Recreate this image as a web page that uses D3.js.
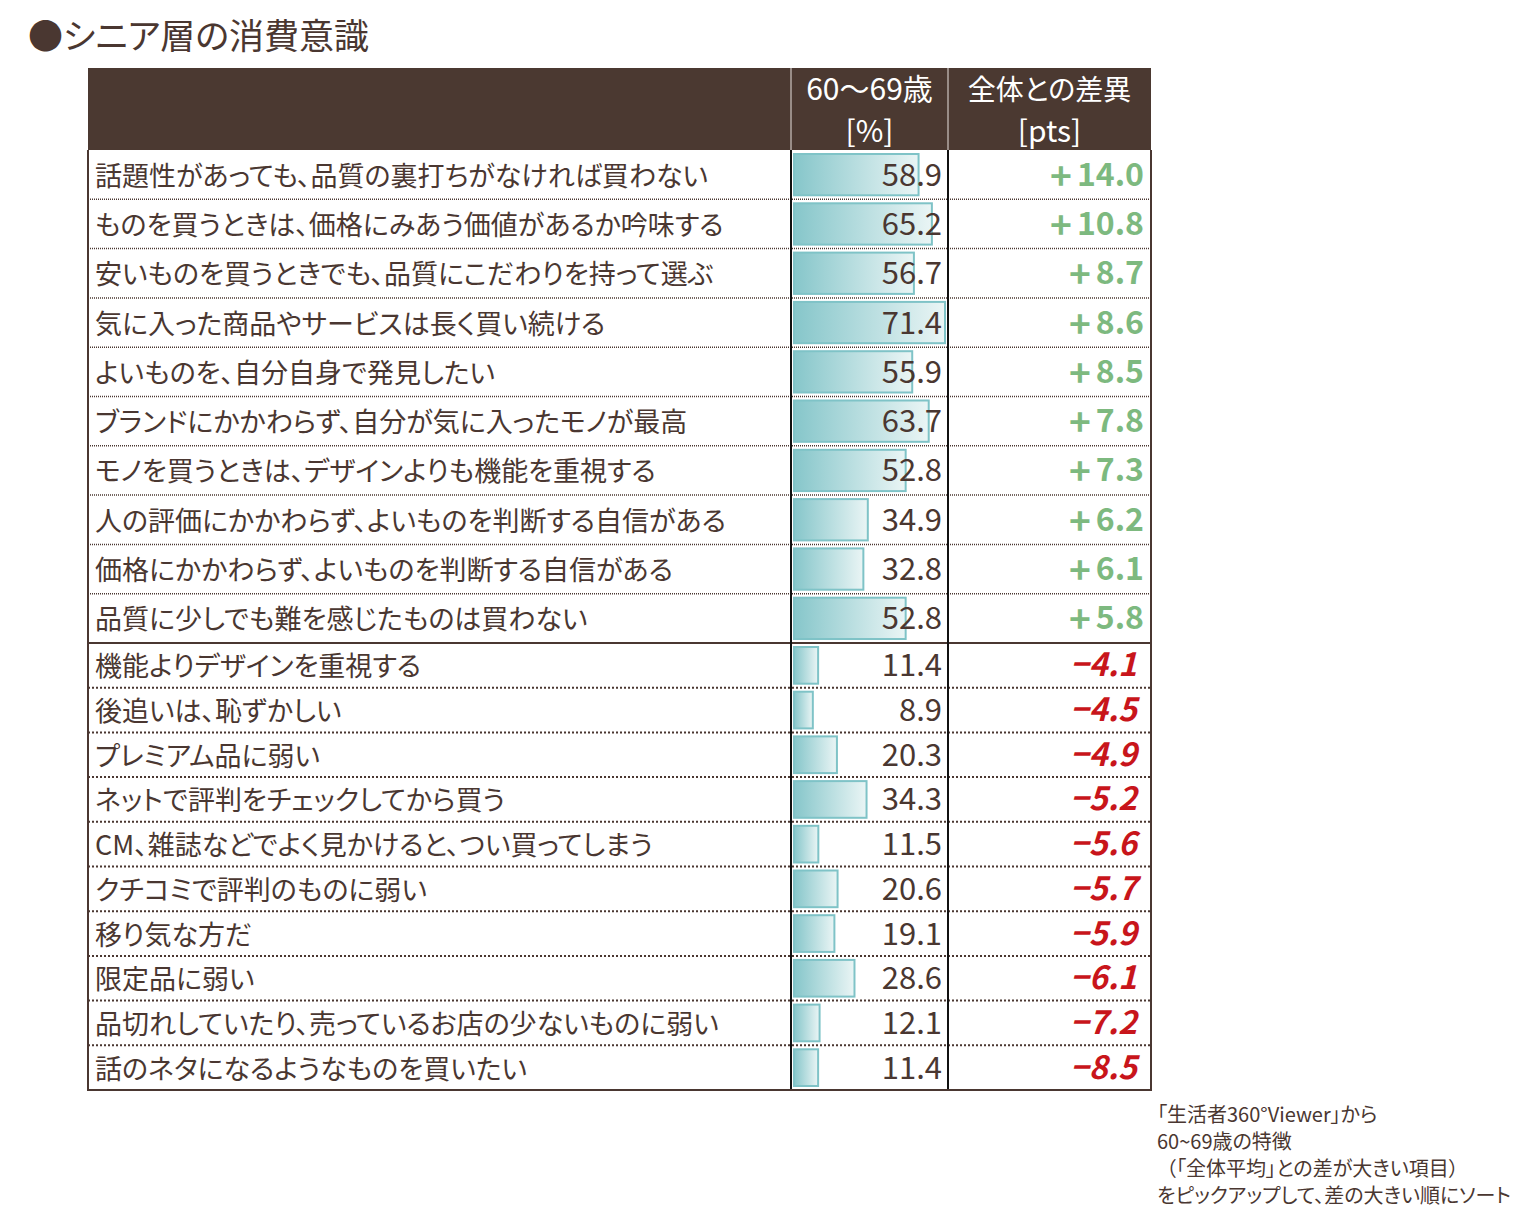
<!DOCTYPE html>
<html>
<head>
<meta charset="utf-8">
<script src="https://cdn.jsdelivr.net/npm/d3@7"></script>
<style>
body { margin: 0; background: #fff; }
text { font-family: "Noto Sans CJK JP", "Noto Sans", sans-serif; }
.palt { font-feature-settings: "palt" 1; }
</style>
</head>
<body>
<div id="canvas"></div>
<script>
// data
var labels = [
	"話題性があっても、品質の裏打ちがなければ買わない",
	"ものを買うときは、価格にみあう価値があるか吟味する",
	"安いものを買うときでも、品質にこだわりを持って選ぶ",
	"気に入った商品やサービスは長く買い続ける",
	"よいものを、自分自身で発見したい",
	"ブランドにかかわらず、自分が気に入ったモノが最高",
	"モノを買うときは、デザインよりも機能を重視する",
	"人の評価にかかわらず、よいものを判断する自信がある",
	"価格にかかわらず、よいものを判断する自信がある",
	"品質に少しでも難を感じたものは買わない",
	"機能よりデザインを重視する",
	"後追いは、恥ずかしい",
	"プレミアム品に弱い",
	"ネットで評判をチェックしてから買う",
	"CM、雑誌などでよく見かけると、つい買ってしまう",
	"クチコミで評判のものに弱い",
	"移り気な方だ",
	"限定品に弱い",
	"品切れしていたり、売っているお店の少ないものに弱い",
	"話のネタになるようなものを買いたい"
];
var values = [58.9, 65.2, 56.7, 71.4, 55.9, 63.7, 52.8, 34.9, 32.8, 52.8,
	11.4, 8.9, 20.3, 34.3, 11.5, 20.6, 19.1, 28.6, 12.1, 11.4];
var diffs = [14.0, 10.8, 8.7, 8.6, 8.5, 7.8, 7.3, 6.2, 6.1, 5.8,
	-4.1, -4.5, -4.9, -5.2, -5.6, -5.7, -5.9, -6.1, -7.2, -8.5];
var headers = [["60〜69歳", "[%]"], ["全体との差異", "[pts]"]];
var notes = [
	"「生活者360°Viewer」から",
	"60~69歳の特徴",
	"（「全体平均」との差が大きい項目）",
	"をピックアップして、差の大きい順にソート"
];

var w = 1537, h = 1225;
var brown = "#4a3731";

var paper = d3.select("#canvas")
	.append("svg")
	.attr("width", w)
	.attr("height", h);

// title
paper.append("text")
	.attr("class", "palt")
	.attr("x", 28)
	.attr("y", 49)
	.style("font-size", "35px")
	.style("fill", brown)
	.text("●シニア層の消費意識");

// columns
var x0 = 88, x1 = 791, x2 = 948, x3 = 1151;
var headTop = 68, headBot = 150, mid = 643, bottom = 1090;

var topIdx = d3.range(0, 10), botIdx = d3.range(10, 20);
var yTop = d3.scaleBand().domain(topIdx).range([headBot, mid]);
var yBot = d3.scaleBand().domain(botIdx).range([mid, bottom]);
function yOf(i) { return i < 10 ? yTop(i) : yBot(i); }
function hOf(i) { return i < 10 ? yTop.bandwidth() : yBot.bandwidth(); }

var xBar = d3.scaleLinear().domain([0, 71.4]).range([794, 945]);

// gradient for bars
var grad = paper.append("defs").append("linearGradient")
	.attr("id", "barGrad")
	.attr("x1", "0%").attr("x2", "100%");
grad.append("stop").attr("offset", "0%").attr("stop-color", "#86c6ca");
grad.append("stop").attr("offset", "100%").attr("stop-color", "#eaf5f5");

// header
paper.append("rect")
	.attr("x", x0)
	.attr("y", headTop)
	.attr("width", x3 - x0)
	.attr("height", headBot - headTop)
	.style("fill", "#4b3931");

[x1, x2].forEach(function(x) {
	paper.append("line")
		.attr("x1", x).attr("x2", x)
		.attr("y1", headTop).attr("y2", headBot)
		.style("stroke", "#e8e2df")
		.style("stroke-width", "1px");
});

headers.forEach(function(hd, k) {
	var cx = k == 0 ? (x1 + x2) / 2 : (x2 + x3) / 2;
	hd.forEach(function(t, j) {
		paper.append("text")
			.attr("class", "palt")
			.attr("x", cx)
			.attr("y", 100 + j * 42)
			.attr("text-anchor", "middle")
			.style("font-size", k == 1 && j == 0 ? "28px" : "30px")
			.style("fill", "#fff")
			.text(t);
	});
});

// rows
var rows = paper.selectAll("g.row")
	.data(d3.range(20))
	.enter()
	.append("g")
	.attr("class", "row")
	.attr("transform", function(i) { return "translate(0," + yOf(i) + ")"; });

// row separators
rows.filter(function(i) { return i != 0 && i != 10; })
	.append("line")
	.attr("x1", x0).attr("x2", x3)
	.attr("y1", 0).attr("y2", 0)
	.style("stroke", brown)
	.style("stroke-width", function(i) { return i < 10 ? "1.5px" : "2px"; })
	.style("stroke-dasharray", function(i) { return i < 10 ? "1,1" : "2,2"; });

rows.append("rect")
	.attr("x", xBar(0))
	.attr("y", 4)
	.attr("width", function(i) { return xBar(values[i]) - xBar(0); })
	.attr("height", function(i) { return hOf(i) - 8; })
	.style("fill", "url(#barGrad)")
	.style("stroke", "#7fc3c7")
	.style("stroke-width", "2px");

rows.append("text")
	.attr("class", "palt")
	.attr("x", 95)
	.attr("y", function(i) { return hOf(i) / 2 + 11; })
	.style("font-size", "27px")
	.style("fill", brown)
	.text(function(i) { return labels[i]; });

rows.append("text")
	.attr("x", 942)
	.attr("y", function(i) { return hOf(i) / 2 + 11; })
	.attr("text-anchor", "end")
	.style("font-size", "31px")
	.style("fill", brown)
	.text(function(i) { return values[i].toFixed(1); });

// difference column: big bold plus sign for positives
var diffText = rows.append("text")
	.attr("x", function(i) { return diffs[i] > 0 ? 1144 : 1137; })
	.attr("y", function(i) { return hOf(i) / 2 + 11; })
	.attr("text-anchor", "end")
	.style("font-size", "32px")
	.style("font-weight", "bold")
	.style("font-style", function(i) { return diffs[i] > 0 ? "normal" : "italic"; })
	.style("fill", function(i) { return diffs[i] > 0 ? "#7db97f" : "#c8151b"; });

diffText.append("tspan")
	.attr("dy", function(i) { return diffs[i] > 0 ? 4 : 0; })
	.style("font-size", function(i) { return diffs[i] > 0 ? "37px" : "32px"; })
	.text(function(i) { return diffs[i] > 0 ? "+" : "\u2212"; });
diffText.append("tspan")
	.attr("dx", function(i) { return diffs[i] > 0 ? 5 : 0; })
	.attr("dy", function(i) { return diffs[i] > 0 ? -4 : 0; })
	.text(function(i) { return Math.abs(diffs[i]).toFixed(1); });

// group divider
paper.append("line")
	.attr("x1", x0).attr("x2", x3)
	.attr("y1", mid).attr("y2", mid)
	.style("stroke", brown)
	.style("stroke-width", "2px");

// vertical lines in body
[x1, x2].forEach(function(x) {
	paper.append("line")
		.attr("x1", x).attr("x2", x)
		.attr("y1", headBot).attr("y2", bottom)
		.style("stroke", "#111")
		.style("stroke-width", "2px");
});

// outer border of body
paper.append("path")
	.attr("d", "M" + x0 + "," + headBot + "V" + bottom + "H" + x3 + "V" + headBot)
	.style("fill", "none")
	.style("stroke", brown)
	.style("stroke-width", "2px");

// notes
notes.forEach(function(t, k) {
	paper.append("text")
		.attr("class", "palt")
		.attr("x", k == 2 ? 1166 : 1157)
		.attr("y", 1122 + k * 27)
		.style("font-size", "20px")
		.style("fill", brown)
		.text(t);
});
</script>
</body>
</html>
